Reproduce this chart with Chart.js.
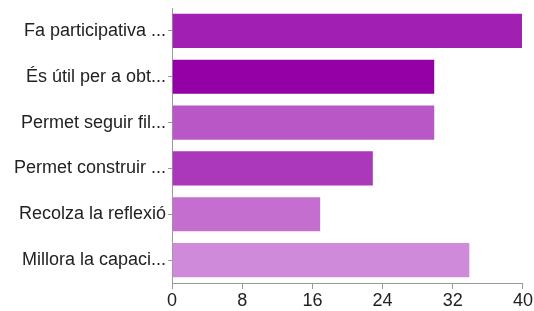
<!DOCTYPE html>
<html>
<head>
<meta charset="utf-8">
<script src="https://cdn.jsdelivr.net/npm/chart.js@4/dist/chart.umd.min.js"></script>
<style>
  html, body { margin: 0; padding: 0; background: #fff; }
  #wrap { width: 534px; height: 311px; position: relative; }
</style>
</head>
<body>
<div id="wrap"><canvas id="chart"></canvas></div>
<script>
// Data
const categories = [
  "Fa participativa ...",
  "És útil per a obt...",
  "Permet seguir fil...",
  "Permet construir ...",
  "Recolza la reflexió",
  "Millora la capaci..."
];
const counts = [40, 30, 30, 23, 17, 34];
const barColors = ["#a21fb3", "#9500a6", "#b857c5", "#ab37bb", "#c46fcf", "#cf8ad9"];
const xTicks = [0, 8, 16, 24, 32, 40];

const ctx = document.getElementById("chart").getContext("2d");
new Chart(ctx, {
  type: "bar",
  data: {
    labels: categories,
    datasets: [
      {
        data: counts,
        backgroundColor: barColors,
        borderColor: "rgba(255,255,255,0.45)",
        borderWidth: 1,
        categoryPercentage: 1,
        barPercentage: 0.79,
      },
    ],
  },
  options: {
    indexAxis: "y",
    responsive: true,
    maintainAspectRatio: false,
    animation: false,
    layout: { padding: { top: 8, right: 3, left: 0, bottom: 0 } },
    plugins: { legend: { display: false }, tooltip: { enabled: false } },
    scales: {
      x: {
        min: xTicks[0],
        max: xTicks[xTicks.length - 1],
        afterBuildTicks: (scale) => {
          scale.ticks = xTicks.map((v) => ({ value: v }));
        },
        afterFit: (scale) => { scale.height = 28; },
        grid: { drawOnChartArea: false, drawTicks: true, tickLength: 6, color: "#999" },
        border: { color: "#999" },
        ticks: {
          color: "#222",
          padding: 1,
          font: { family: "'Liberation Sans', Arial, sans-serif", size: 18 },
        },
      },
      y: {
        afterFit: (scale) => {
          scale.width = 172;
          scale.paddingTop = 0;
          scale.paddingBottom = 0;
        },
        grid: { drawOnChartArea: false, drawTicks: true, tickLength: 4, offset: false, color: "#999" },
        border: { color: "#999" },
        ticks: {
          color: "#222",
          padding: 2,
          font: { family: "'Liberation Sans', Arial, sans-serif", size: 18 },
        },
      },
    },
  },
});
</script>
</body>
</html>
